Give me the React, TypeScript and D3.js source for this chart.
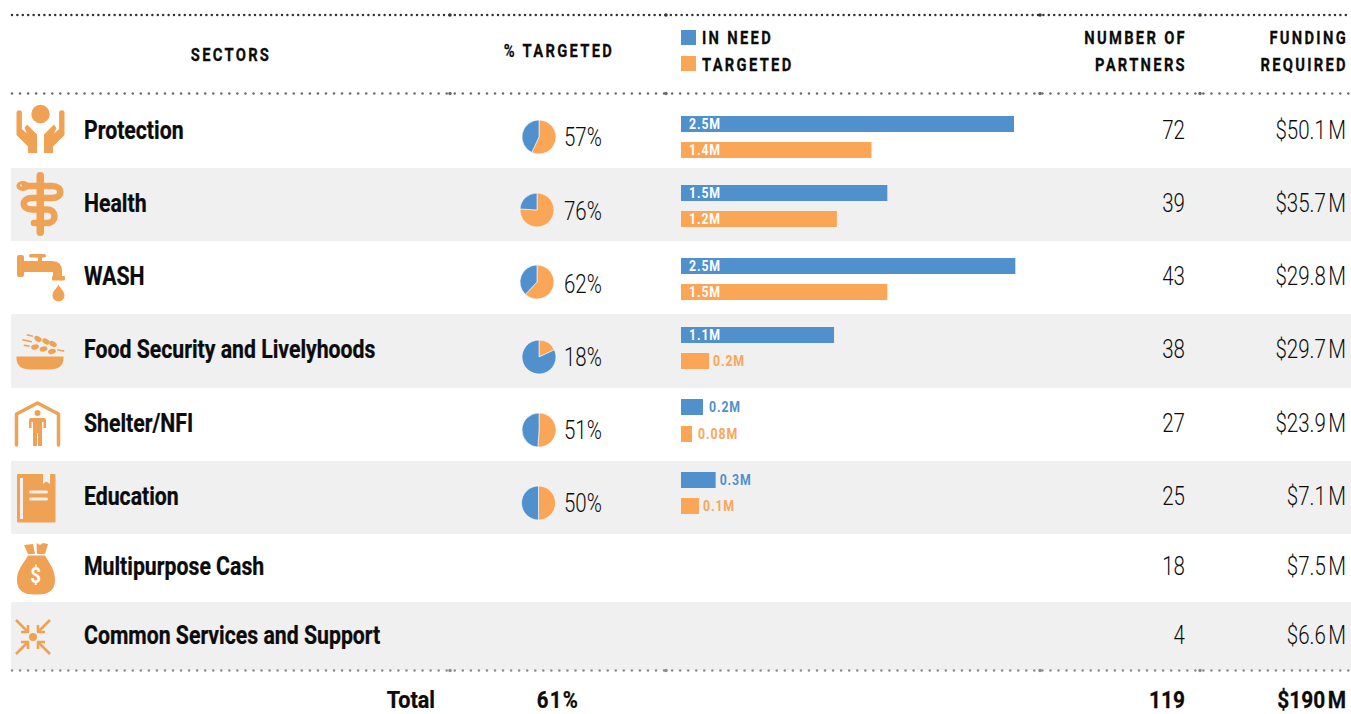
import React from 'react';
import * as d3 from 'd3';

// Sector table: people in need / targeted (millions), partners and funding.
const sectors = ['Protection', 'Health', 'WASH', 'Food Security and Livelyhoods', 'Shelter/NFI', 'Education', 'Multipurpose Cash', 'Common Services and Support'];
const pctTargeted = [57, 76, 62, 18, 51, 50, null, null];
const inNeed = [2.5, 1.549, 2.51, 1.149, 0.165, 0.26, null, null];
const targeted = [1.43, 1.17, 1.549, 0.21, 0.083, 0.135, null, null];
const partners = [72, 39, 43, 38, 27, 25, 18, 4];
const fundingAmounts = ['$50.1', '$35.7', '$29.8', '$29.7', '$23.9', '$7.1', '$7.5', '$6.6'];
const iconKinds = ['hands', 'snake', 'tap', 'bowl', 'house', 'book', 'bag', 'arrows'];
const rowEdges = [95, 168, 241, 314, 388, 461, 534, 602, 670];
const pieX = [539, 537, 537, 539, 539, 538.5];
const pieY = [137, 210, 282, 357, 430, 503];
const pctY = [137, 211, 284, 357, 430, 503];
const barTops = [116, 185, 258, 327, 399, 472];
const barGaps = [26, 26, 26, 26, 27, 26];
const outsideGap = [6, 6, 6, 4, 6, 4];
const rowText = [131, 204, 277, 350, 424, 497, 567, 636];
const numberText = [131, 204, 277, 350, 424, 497, 567, 636];
const totalLabel = 'Total';
const totalPct = '61%';
const totalPartners = '119';
const totalFunding = '$190';

const BLUE = '#4f90cd';
const ORANGE = '#fba556';
const ICON = '#efa254';
const INK = '#0c0c0c';
const ROW = '#f0f0f0';

const x = d3.scaleLinear().domain([0, 2.5]).range([681, 1014]);
const pieGen = d3.pie<number>().sort(null);
const arcGen = d3.arc<d3.PieArcDatum<number>>().innerRadius(0).outerRadius(17);
const fmtBar = (v: number) => (v < 0.1 ? d3.format('.2f')(v) : d3.format('.1f')(v)) + 'M';

// Roboto squeezed horizontally to the condensed proportions used by the table.
function T({ x: px, y, anchor = 'start', size, weight = 400, fill = INK, spacing = 0, cond = 0.82, bold = 0, children }: any) {
  return (
    <text
      transform={`translate(${px},${y}) scale(${cond},1)`}
      textAnchor={anchor}
      fontFamily="Roboto, sans-serif"
      fontSize={size}
      fontWeight={weight}
      fill={fill}
      stroke={bold ? fill : 'none'}
      strokeWidth={bold}
      letterSpacing={spacing}
      style={{ whiteSpace: 'pre' }}
    >
      {children}
    </text>
  );
}

function Dotted({ y, color, step, r }: { y: number; color: string; step: number; r: number }) {
  const dots = d3.range(12, 1351, step);
  const joints = [450, 666, 1040, 1200];
  return (
    <g fill={color}>
      {dots.map((d) => <circle key={d} cx={d} cy={y} r={r} />)}
      {joints.map((d) => <circle key={d} cx={d} cy={y} r={r + 0.5} />)}
    </g>
  );
}

// Sector pictograms, each drawn in a local box placed by its row.
function Icon({ kind }: { kind: string }) {
  const stroke = { stroke: ICON, fill: 'none', strokeLinecap: 'round' as const, strokeLinejoin: 'round' as const };
  switch (kind) {
    case 'hands': {
      const hand = 'M16.500 113a2.700 2.700 0 0 1 5.400 0V129L27 133.500L24.500 128L27 124.500L37 134.500V153H28V146.500L16.500 135Z';
      return (
        <g fill={ICON}>
          <circle cx="40.500" cy="114" r="9.200" />
          <path d={hand} />
          <path d={hand} transform="translate(81,0) scale(-1,1)" />
        </g>
      );
    }
    case 'snake':
      return (
        <g>
          <rect x="36.500" y="172" width="7.500" height="64" rx="3.700" fill={ICON} />
          <path d="M20 186H52C63 186 63 198 52 198H32C21 198 21 209.500 32 209.500H47C57 209.500 57 223 47 223H34" {...stroke} strokeWidth="6.500" />
          <ellipse cx="23" cy="186" rx="6.500" ry="5" fill={ICON} />
          <circle cx="21" cy="185.500" r="1" fill={ROW} />
        </g>
      );
    case 'tap':
      return (
        <g fill={ICON}>
          <rect x="17" y="255" width="7" height="22" rx="2" />
          <rect x="24" y="261" width="28" height="11" />
          <rect x="29" y="254" width="17" height="3.500" rx="1.700" />
          <rect x="38" y="255" width="4" height="7" />
          <path d="M46 261H52Q62 261 62 271V277H53V272H46Z" />
          <rect x="52" y="276" width="13" height="4.500" rx="1" />
          <path d="M58.500 284.500C60 288.500 64.500 291 64.500 295.500A6 6 0 0 1 52.500 295.500C52.500 291 57 288.500 58.500 284.500Z" />
        </g>
      );
    case 'bowl':
      return (
        <g>
          <path d="M16.500 356.500H63.500V358Q63.500 369.500 49 369.500H31Q16.500 369.500 16.500 358Z" fill={ICON} />
          <g fill={ICON}>
            {[[38, 339, 30], [46, 341.500, 30], [53, 344, 30], [35, 347, -15], [43.500, 349, -15], [52, 351.500, -15]].map(([cx, cy, a], i) => (
              <ellipse key={i} cx={cx} cy={cy} rx="4" ry="2.500" transform={`rotate(${a} ${cx} ${cy})`} />
            ))}
            <path d="M27 334L33 335.500L32.500 337L26.500 335.500ZM22.500 339L32 341L31.500 342.500L22 340.500ZM24 344.500L30 345.500L29.500 347L23.500 346ZM57.500 349L64.500 350.500L64 352L57 350.500Z" />
          </g>
        </g>
      );
    case 'house':
      return (
        <g>
          <path d="M16.500 445V414L37.500 403L58.500 414V445" {...stroke} strokeWidth="3.500" />
          <circle cx="37.500" cy="413" r="3" fill={ICON} />
          <path d="M31 418H44Q46 418 46 421V428H43.500V422H42V446H38V433H37V446H33V422H31.500V428H29V421Q29 418 31 418Z" fill={ICON} />
        </g>
      );
    case 'book':
      return (
        <g>
          <rect x="17" y="474" width="38.500" height="48.500" rx="1" fill={ICON} />
          <rect x="20" y="478" width="3" height="41" fill={ROW} />
          <path d="M43 474H50V484L46.500 481.500L43 484Z" fill={ROW} />
          <rect x="29" y="490.500" width="19" height="3" rx="1.500" fill={ROW} />
          <rect x="29" y="497.500" width="19" height="3" rx="1.500" fill={ROW} />
        </g>
      );
    case 'bag':
      return (
        <g>
          <path d="M24 545L33 544L35 554H28ZM36.500 543L40 545L43 543L48 544L45 554H37Z" fill={ICON} />
          <path d="M28 555.500H45C49 563 55 569 55 580C55 590 49 594.500 38 594.500H34C23 594.500 17 590 17 580C17 569 24 563 28 555.500Z" fill={ICON} />
          <T x={35.500} y={583} anchor="middle" size={22} weight={700} fill="#fff" cond={0.85}>$</T>
        </g>
      );
    default:
      return (
        <g>
          <circle cx="33" cy="637" r="4" fill={ICON} />
          {[[-1, -1], [1, -1], [-1, 1], [1, 1]].map(([sx, sy], i) => {
            const cx = 33, cy = 637;
            const tip = (o: number) => `${cx + sx * o},${cy + sy * o}`;
            const a = `${cx + sx * 5},${cy + sy * 12}`, b = `${cx + sx * 5},${cy + sy * 5}`, c = `${cx + sx * 12},${cy + sy * 5}`;
            return (
              <g key={i} {...stroke} strokeWidth="2.600" strokeLinecap="butt">
                <path d={`M${tip(6)}L${tip(17)}`} />
                <path d={`M${a}L${b}L${c}`} />
              </g>
            );
          })}
        </g>
      );
  }
}

const HEAD = { size: 18, weight: 700, spacing: 2.8, bold: 0.25 };
const LABEL = { size: 25, weight: 700, cond: 0.85, bold: 0.25 };

export default function App() {
  return (
    <svg width={1351} height={714} style={{ position: 'absolute', left: 0, top: 0, background: '#fff' }}>
      {sectors.map((_, i) => i % 2 === 1 && (
        <rect key={i} x={11} y={rowEdges[i]} width={1340} height={rowEdges[i + 1] - rowEdges[i]} fill={ROW} />
      ))}
      <Dotted y={15} color="#333" step={5.4} r={1.25} />
      <Dotted y={93.500} color="#6a6a6a" step={8.05} r={1.25} />
      <Dotted y={670.500} color="#8c8c8c" step={8.05} r={1.25} />

      <T x={231} y={61} anchor="middle" {...HEAD}>SECTORS</T>
      <T x={559} y={57} anchor="middle" {...HEAD}>% TARGETED</T>
      <rect x={681} y={30} width={15} height={15} fill={BLUE} />
      <rect x={681} y={56} width={15} height={15} fill={ORANGE} />
      <T x={702} y={44} {...HEAD}>IN NEED</T>
      <T x={702} y={71} {...HEAD}>TARGETED</T>
      <T x={1187} y={44} anchor="end" {...HEAD}>NUMBER OF</T>
      <T x={1187} y={71} anchor="end" {...HEAD}>PARTNERS</T>
      <T x={1348} y={44} anchor="end" {...HEAD}>FUNDING</T>
      <T x={1348} y={71} anchor="end" {...HEAD}>REQUIRED</T>

      {sectors.map((s, i) => {
        const pct = pctTargeted[i];
        const need = inNeed[i];
        const tgt = targeted[i];
        const arcs = pct == null ? [] : pieGen([pct, 100 - pct]);
        return (
          <g key={s}>
            <Icon kind={iconKinds[i]} />
            <T x={84} y={rowText[i] + 8} {...LABEL}>{s}</T>
            {pct != null && (
              <g>
                <g transform={`translate(${pieX[i]},${pieY[i]})`}>
                  {arcs.map((a, k) => (
                    <path key={k} d={arcGen(a) as string} fill={k === 0 ? ORANGE : BLUE} stroke="#fff" strokeWidth={0.6} />
                  ))}
                </g>
                <T x={564} y={pctY[i] + 9} size={25} weight={300}>{`${pct}%`}</T>
              </g>
            )}
            {need != null && tgt != null && [need, tgt].map((v, k) => {
              const y = barTops[i] + k * barGaps[i];
              const w = x(v) - x(0);
              const fill = k === 0 ? BLUE : ORANGE;
              const inside = w > 100;
              return (
                <g key={k}>
                  <rect x={x(0)} y={y} width={w} height={16} fill={fill} />
                  <T x={inside ? x(0) + 8 : x(v) + outsideGap[i]} y={y + 13} size={15} weight={700} fill={inside ? '#fff' : fill} spacing={1.1}>{fmtBar(v)}</T>
                </g>
              );
            })}
            <T x={1185} y={numberText[i] + 8} anchor="end" size={25} weight={300}>{partners[i]}</T>
            <T x={1346} y={numberText[i] + 8} anchor="end" size={25} weight={300}>
              {fundingAmounts[i]}<tspan dx={3}>M</tspan>
            </T>
          </g>
        );
      })}

      <T x={435} y={708} anchor="end" size={24} weight={700} cond={0.9} bold={0.25}>{totalLabel}</T>
      <T x={558} y={708} anchor="middle" size={24} weight={700} spacing={1.5} cond={0.85} bold={0.25}>{totalPct}</T>
      <T x={1185} y={708} anchor="end" size={24} weight={700} cond={0.87} bold={0.25}>{totalPartners}</T>
      <T x={1346} y={708} anchor="end" size={24} weight={700} cond={0.87} bold={0.25}>
        {totalFunding}<tspan dx={3}>M</tspan>
      </T>
    </svg>
  );
}
